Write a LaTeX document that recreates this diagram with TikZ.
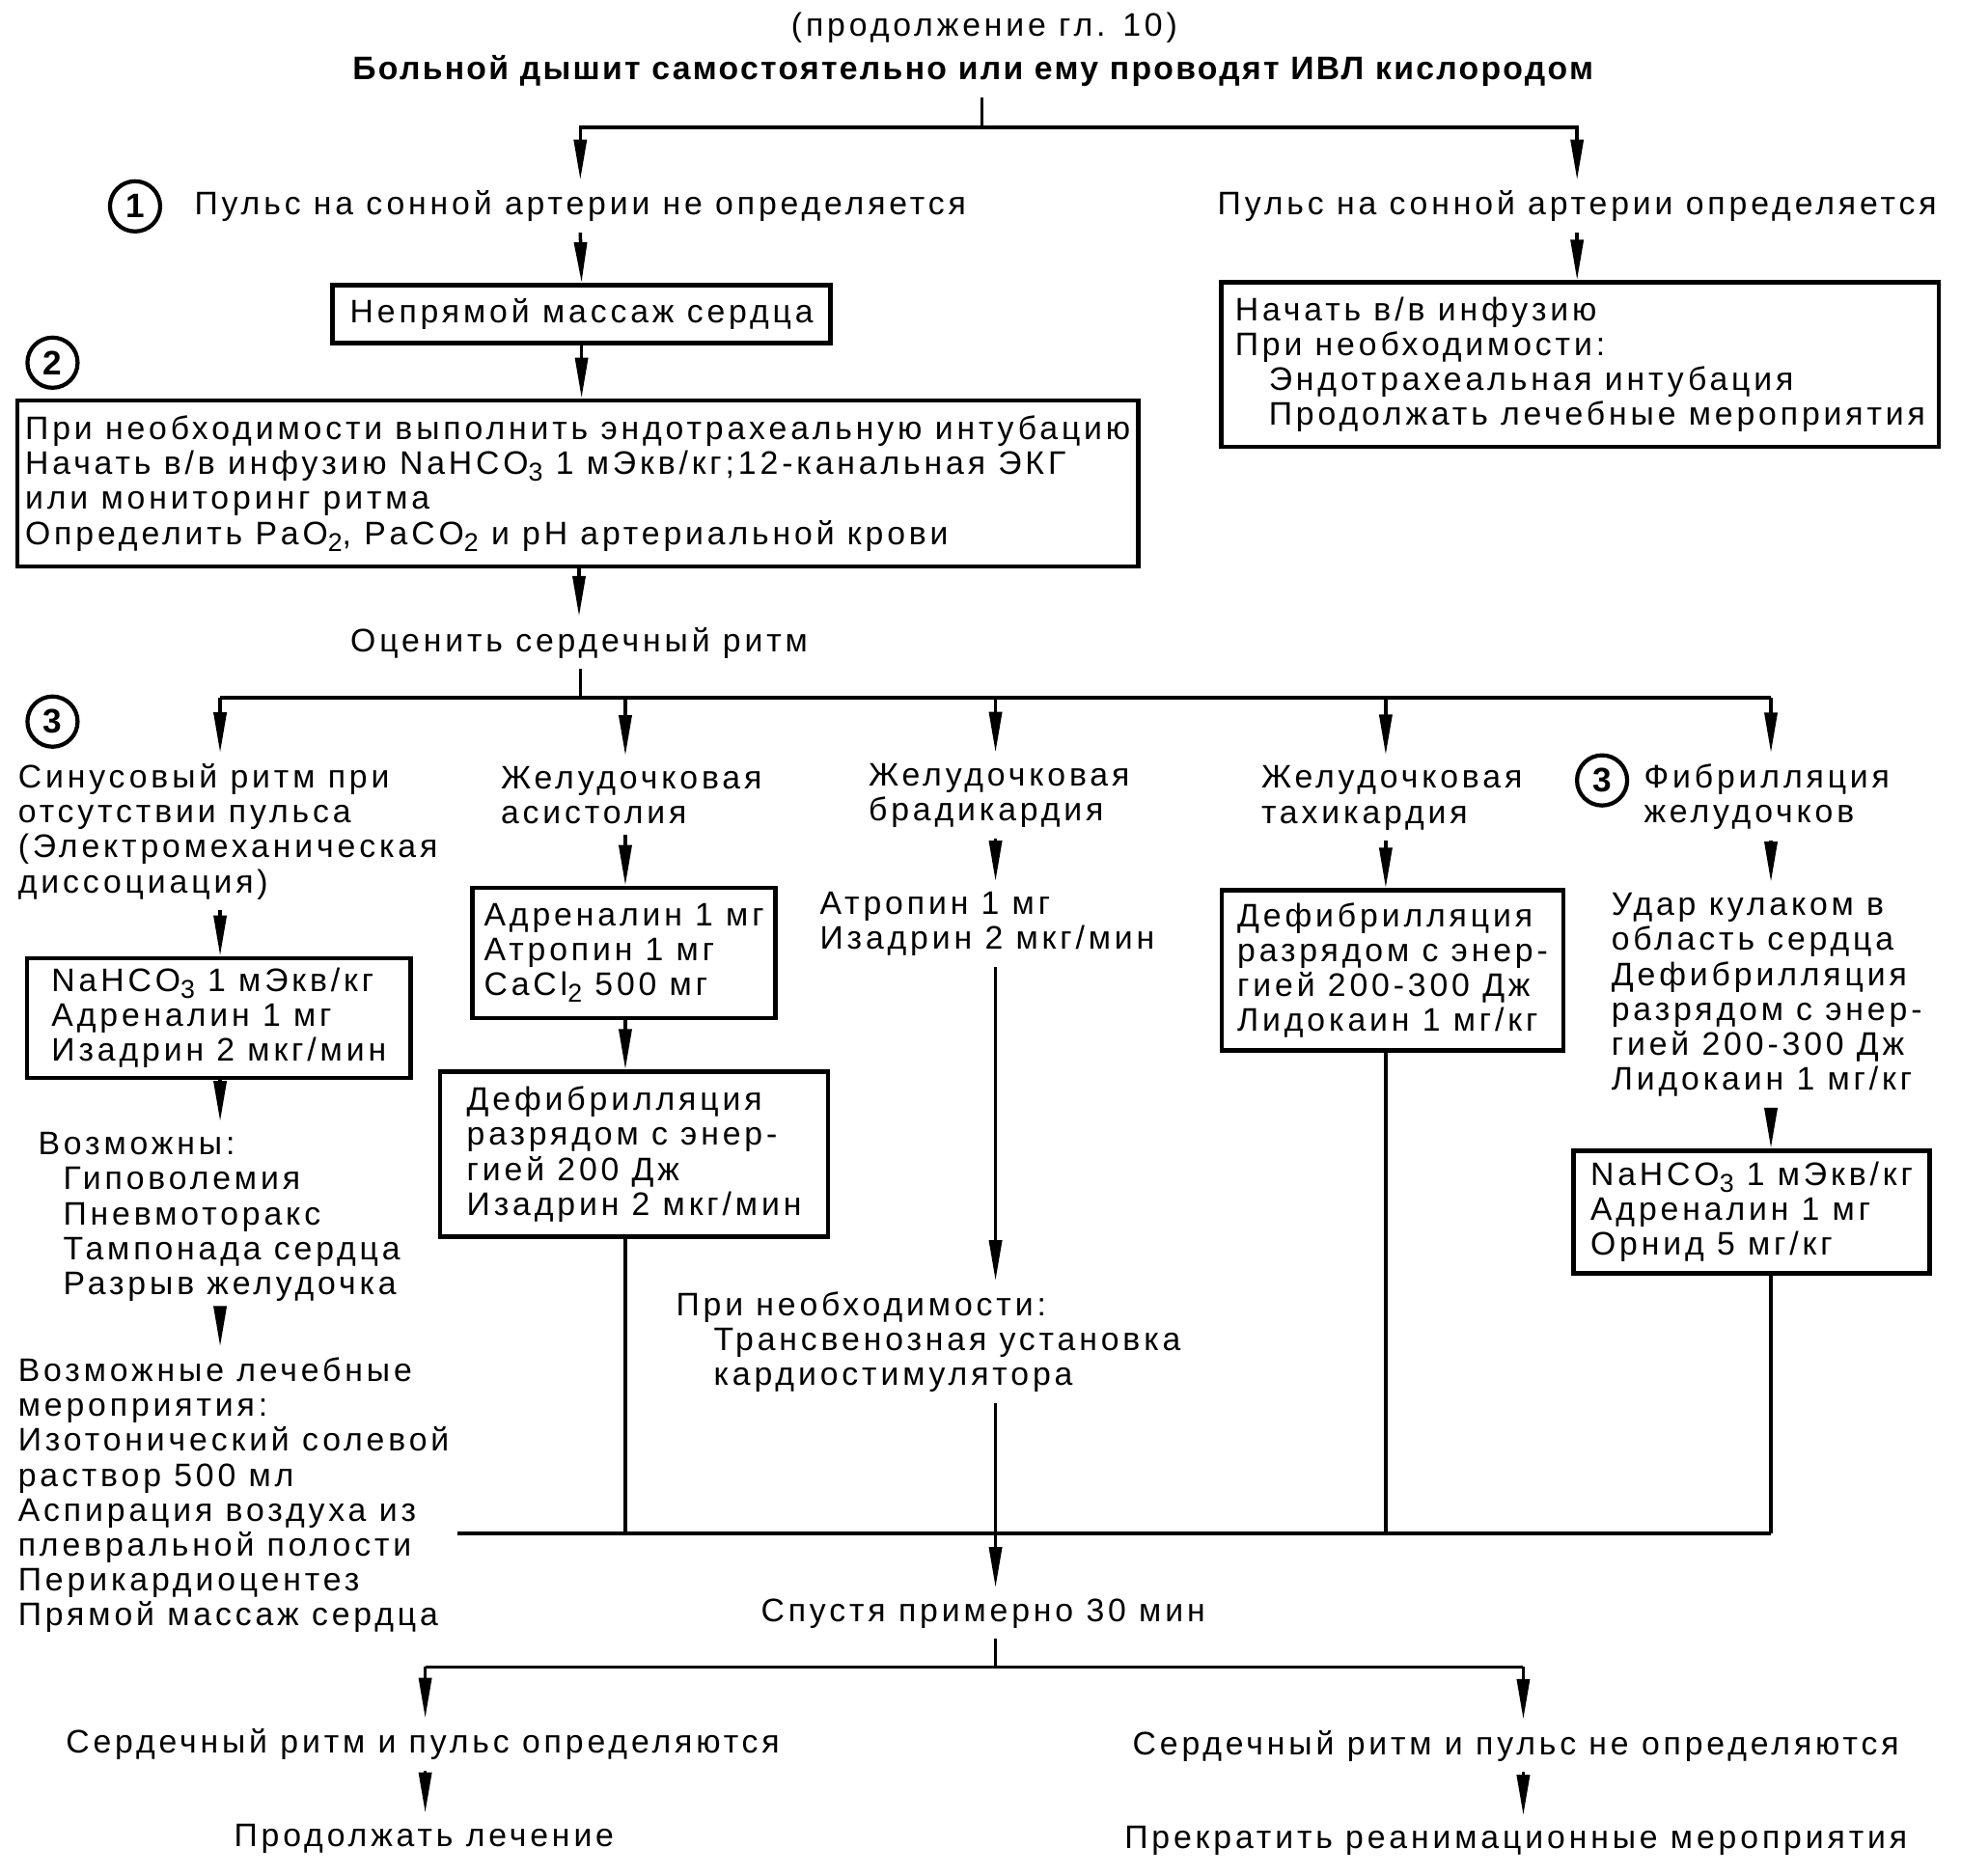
\documentclass[tikz,border=0pt]{standalone}
\usepackage{fontspec}
\setmainfont{Liberation Sans}[LetterSpace=11.5]
\newfontfamily\headfont{Liberation Sans}[LetterSpace=6.8]
\usetikzlibrary{arrows.meta}

\newcommand{\lowsub}[1]{\raisebox{-0.4ex}{\fontsize{7.6}{8}\selectfont #1}}

\begin{document}
\begin{tikzpicture}[x=0.01296cm,y=-0.01296cm,>={Triangle[length=4.2mm,width=1.3mm]},
  txt/.style={inner xsep=0pt,inner ysep=3pt,align=left,font=\fontsize{9.6}{10.3}\selectfont},
  box/.style={draw,line width=1.3pt,inner sep=2pt,align=left,font=\fontsize{9.6}{10.3}\selectfont},
  num/.style={circle,draw,line width=1.2pt,minimum size=0.52cm,inner sep=0pt,font=\bfseries\fontsize{10}{12}\selectfont},
  link/.style={line width=1pt},
  arr/.style={->,line width=1pt}]
\path[use as bounding box,fill=white] (0,0) rectangle (1568,1500);
% head
\node[txt] (chap) at (787,22) {(продолжение гл. 10)};
\node[txt,font=\headfont\bfseries\fontsize{9.6}{10.3}\selectfont] (start) at (778,57) {Больной дышит самостоятельно или ему проводят ИВЛ кислородом};
\coordinate (j0) at (785,102);
\node[num] (n1) at (108,165) {1};
\node[txt] (nopulse) at (464,165) {Пульс на сонной артерии не определяется};
\node[txt] (pulse) at (1261,165) {Пульс на сонной артерии определяется};
\node[box,align=center,minimum width=5.16cm,minimum height=0.6cm] (massage) at (465,251) {Непрямой массаж сердца};
\node[num] (n2) at (42,290) {2};
\node[box,minimum width=11.61cm,minimum height=1.72cm] (intub) at (462,386.5) {При необходимости выполнить эндотрахеальную интубацию\\
Начать в/в инфузию NaHCO\lowsub{3} 1 мЭкв/кг;12-канальная ЭКГ\\
или мониторинг ритма\\
Определить PaO\lowsub{2}, PaCO\lowsub{2} и pH артериальной крови};
\node[box,minimum width=7.43cm,minimum height=1.7cm] (infus) at (1263.5,291.5) {Начать в/в инфузию\\
При необходимости:\\
\hspace*{0.35cm}Эндотрахеальная интубация\\
\hspace*{0.35cm}Продолжать лечебные мероприятия};
\draw[arr] (j0 |- start.south) -- (j0) -| (nopulse.north);
\draw[arr] (j0) -| (pulse.north);
\draw[arr] (nopulse.south) -- (massage.north);
\draw[arr] (massage.south) -- (massage.south |- intub.north);
\draw[arr] (pulse.south) -- (pulse.south |- infus.north);
% rhythm
\node[txt] (eval) at (463,514) {Оценить сердечный ритм};
\draw[arr] (eval.north |- intub.south) -- (eval.north);
\coordinate (j1) at (464,558);
\coordinate (d1) at (176,558);
\coordinate (d2) at (500,558);
\coordinate (d3) at (796,558);
\coordinate (d4) at (1108,558);
\coordinate (d5) at (1416,558);
\draw[link] (j1 |- eval.south) -- (j1);
\draw[link] (d1) -- (d5);
\node[num] (n3) at (42,577) {3};
\node[txt,anchor=west] (emd) at (14,665) {Синусовый ритм при\\отсутствии пульса\\(Электромеханическая\\диссоциация)};
\node[txt,anchor=west] (asys) at (400,636) {Желудочковая\\асистолия};
\node[txt,anchor=west] (brad) at (694,636) {Желудочковая\\брадикардия};
\node[txt,anchor=west] (tach) at (1008,638) {Желудочковая\\тахикардия};
\node[num] (n3b) at (1281,624) {3};
\node[txt,anchor=west] (fib) at (1314,637) {Фибрилляция\\желудочков};
\foreach \d/\h in {d1/emd,d2/asys,d3/brad,d4/tach,d5/fib}
  \draw[arr] (\d) -- (\d |- \h.north);
% column 1
\node[box,minimum width=3.97cm,minimum height=1.24cm] (emddrug) at (175,814) {NaHCO\lowsub{3} 1 мЭкв/кг\\Адреналин 1 мг\\Изадрин 2 мкг/мин};
\node[txt,anchor=west] (cause) at (30,973) {Возможны:\\\hspace*{0.26cm}Гиповолемия\\\hspace*{0.26cm}Пневмоторакс\\\hspace*{0.26cm}Тампонада сердца\\\hspace*{0.26cm}Разрыв желудочка};
\node[txt,anchor=west] (treat) at (14,1195.5) {Возможные лечебные\\мероприятия:\\Изотонический солевой\\раствор 500 мл\\Аспирация воздуха из\\плевральной полости\\Перикардиоцентез\\Прямой массаж сердца};
\draw[arr] (d1 |- emd.south) -- (d1 |- emddrug.north);
\draw[arr] (d1 |- emddrug.south) -- (d1 |- cause.north);
\draw[arr] (d1 |- cause.south) -- (d1 |- treat.north);
% column 2
\node[box,minimum width=3.14cm,minimum height=1.35cm] (asysdrug) at (499,762) {Адреналин 1 мг\\Атропин 1 мг\\CaCl\lowsub{2} 500 мг};
\node[box,minimum width=4.02cm,minimum height=1.71cm] (asysdef) at (507,923) {Дефибрилляция\\разрядом с энер-\\гией 200 Дж\\Изадрин 2 мкг/мин};
\draw[arr] (d2 |- asys.south) -- (d2 |- asysdrug.north);
\draw[arr] (d2 |- asysdrug.south) -- (d2 |- asysdef.north);
% column 3
\node[txt,anchor=west] (bradrug) at (655,739) {Атропин 1 мг\\Изадрин 2 мкг/мин};
\node[txt,anchor=west] (pace) at (540,1073) {При необходимости:\\\hspace*{0.39cm}Трансвенозная установка\\\hspace*{0.39cm}кардиостимулятора};
\draw[arr] (d3 |- brad.south) -- (d3 |- bradrug.north);
\draw[arr] (d3 |- bradrug.south) -- (d3 |- pace.north);
% column 4
\node[box,minimum width=3.54cm,minimum height=1.66cm] (tachdef) at (1113.5,776) {Дефибрилляция\\разрядом с энер-\\гией 200-300 Дж\\Лидокаин 1 мг/кг};
\draw[arr] (d4 |- tach.south) -- (d4 |- tachdef.north);
% column 5
\node[txt,anchor=west] (fibdef) at (1288,795.5) {Удар кулаком в\\область сердца\\Дефибрилляция\\разрядом с энер-\\гией 200-300 Дж\\Лидокаин 1 мг/кг};
\node[box,minimum width=3.69cm,minimum height=1.27cm] (fibdrug) at (1400.5,969) {NaHCO\lowsub{3} 1 мЭкв/кг\\Адреналин 1 мг\\Орнид 5 мг/кг};
\draw[arr] (d5 |- fib.south) -- (d5 |- fibdef.north);
\draw[arr] (d5 |- fibdef.south) -- (d5 |- fibdrug.north);
% join
\coordinate (b0) at (366,1226);
\coordinate (bE) at (1416,1226);
\draw[link] (b0) -- (bE);
\draw[link] (d2 |- asysdef.south) -- (d2 |- b0);
\draw[link] (d4 |- tachdef.south) -- (d4 |- b0);
\draw[link] (d5 |- fibdrug.south) -- (bE);
\node[txt] (after) at (786,1290) {Спустя примерно 30 мин};
\draw[arr] (d3 |- pace.south) -- (d3 |- after.north);
% outcome
\coordinate (j2) at (796,1333);
\coordinate (e1) at (340,1333);
\coordinate (e2) at (1218,1333);
\draw[link] (j2 |- after.south) -- (j2);
\draw[link] (e1) -- (e2);
\node[txt] (ok) at (338,1395) {Сердечный ритм и пульс определяются};
\node[txt] (fail) at (1212,1396) {Сердечный ритм и пульс не определяются};
\node[txt] (goon) at (339,1470) {Продолжать лечение};
\node[txt] (stop) at (1212,1472) {Прекратить реанимационные мероприятия};
\draw[arr] (e1) -- (e1 |- ok.north);
\draw[arr] (e2) -- (e2 |- fail.north);
\draw[arr] (e1 |- ok.south) -- (e1 |- goon.north);
\draw[arr] (e2 |- fail.south) -- (e2 |- stop.north);
\end{tikzpicture}
\end{document}
